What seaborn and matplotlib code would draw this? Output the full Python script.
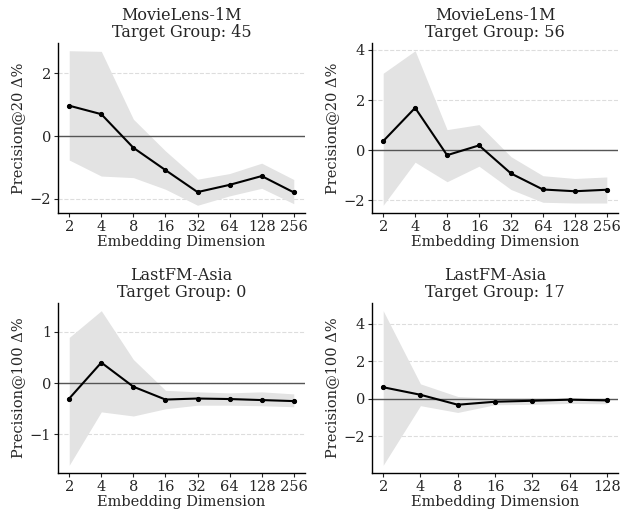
import numpy as np
import pandas as pd
import matplotlib
matplotlib.use("Agg")
import matplotlib.pyplot as plt
import seaborn as sns

sns.set_style("ticks")
plt.rcParams['font.family'] = ['DejaVu Serif']

dims_8 = ["2", "4", "8", "16", "32", "64", "128", "256"]
dims_7 = ["2", "4", "8", "16", "32", "64", "128"]

titles = ["MovieLens-1M\nTarget Group: 45", "MovieLens-1M\nTarget Group: 56",
          "LastFM-Asia\nTarget Group: 0", "LastFM-Asia\nTarget Group: 17"]
ylabels = ["Precision@20 Δ%", "Precision@20 Δ%", "Precision@100 Δ%", "Precision@100 Δ%"]

ml45_mean = [0.97, 0.70, -0.37, -1.08, -1.78, -1.55, -1.27, -1.79]
ml45_up = [2.72, 2.70, 0.54, -0.47, -1.37, -1.19, -0.86, -1.38]
ml45_lo = [-0.76, -1.27, -1.32, -1.69, -2.20, -1.90, -1.66, -2.15]

ml56_mean = [0.36, 1.69, -0.20, 0.19, -0.93, -1.57, -1.64, -1.58]
ml56_up = [3.07, 3.97, 0.82, 1.02, -0.26, -1.02, -1.13, -1.07]
ml56_lo = [-2.20, -0.48, -1.26, -0.64, -1.57, -2.08, -2.11, -2.11]

lf0_mean = [-0.30, 0.40, -0.07, -0.32, -0.30, -0.31, -0.33, -0.35]
lf0_up = [0.89, 1.41, 0.46, -0.14, -0.17, -0.19, -0.17, -0.21]
lf0_lo = [-1.60, -0.56, -0.64, -0.50, -0.43, -0.43, -0.44, -0.46]

lf17_mean = [0.61, 0.21, -0.32, -0.16, -0.11, -0.05, -0.09]
lf17_up = [4.68, 0.79, 0.12, 0.02, 0.02, 0.02, 0.02]
lf17_lo = [-3.54, -0.37, -0.73, -0.32, -0.30, -0.25, -0.27]

panels = [
    (dims_8, ml45_mean, ml45_up, ml45_lo),
    (dims_8, ml56_mean, ml56_up, ml56_lo),
    (dims_8, lf0_mean, lf0_up, lf0_lo),
    (dims_7, lf17_mean, lf17_up, lf17_lo),
]

fig = plt.figure(figsize=(6.22, 5.11), dpi=100)
W, H = 622, 511
rects = [(58, 43, 305, 213), (372, 43, 618, 213), (58, 303, 305, 473), (372, 303, 618, 473)]

for i, ((dims, mean, up, lo), (l, t, r, b)) in enumerate(zip(panels, rects)):
    ax = fig.add_axes([l / W, 1 - b / H, (r - l) / W, (b - t) / H])
    x = np.arange(len(dims))
    df = pd.DataFrame({"x": x, "y": mean})
    ax.fill_between(x, lo, up, color="#e3e3e3", linewidth=0, zorder=1)
    ax.axhline(0, color="#555555", linewidth=1.0, zorder=2)
    sns.lineplot(data=df, x="x", y="y", ax=ax, color="black", linewidth=1.5,
                 marker="o", markersize=3, markeredgecolor="black", zorder=3)
    ax.set_xticks(x)
    ax.set_xticklabels(dims)
    ax.yaxis.grid(True, linestyle="--", color="#dddddd", linewidth=0.8)
    ax.set_axisbelow(True)
    ax.set_title(titles[i], fontsize=11.5, linespacing=1.0, pad=4)
    ax.set_xlabel("Embedding Dimension", fontsize=10.5, labelpad=1)
    ax.set_ylabel(ylabels[i], fontsize=10.5, labelpad=3)
    ax.tick_params(axis="both", labelsize=10.5, length=3, width=0.8, pad=2)
    for s in ["top", "right"]:
        ax.spines[s].set_visible(False)
    for s in ["left", "bottom"]:
        ax.spines[s].set_linewidth(1.0)
        ax.spines[s].set_color("black")
    ax.margins(x=0.05, y=0.05)

fig.savefig("out.png", dpi=100)
